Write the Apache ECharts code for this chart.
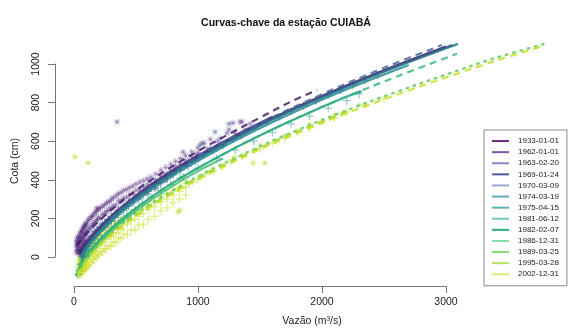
<!DOCTYPE html>
<html><head><meta charset="utf-8">
<script src="https://cdn.jsdelivr.net/npm/echarts@6/dist/echarts.min.js"></script>
<style>html,body{margin:0;padding:0;background:#fff}#c{width:568px;height:333px}</style>
</head><body><div id="c"></div>
<script>
const titleText = 'Curvas-chave da estação CUIABÁ';
const xLabel = 'Vazão (m³/s)';
const yLabel = 'Cota (cm)';
const xTickMin = 0, xTickMax = 3000, xTickStep = 1000;
const yTickMin = 0, yTickMax = 1000, yTickStep = 200;

const legendNames = ['1933-01-01','1962-01-01','1963-02-20','1969-01-24','1970-03-09','1974-03-19','1975-04-15','1981-06-12','1982-02-07','1986-12-31','1989-03-25','1995-03-28','2002-12-31'];
const legendColors = ['#6a2a7e','#7b55a8','#8c88c4','#4b5a9a','#8faacb','#6aa7be','#5bb2b0','#74c9b8','#26b080','#84dca8','#86dc74','#b0e463','#dceb78'];
const lineColors = ['#440154','#481c6e','#46327e','#3d4d8a','#4a6a9c','#2c738e','#23888e','#1f9a8a','#35b779','#42be71','#66cb5d','#98d83e','#c8df20'];

// rating curves [vazão, cota]
const c1933 = [[50,15],[100,62],[250,174],[500,311],[750,423],[1000,519],[1500,688],[2000,834],[2500,967],[3000,1090]];
const c1962 = [[20,60],[100,120],[250,215],[500,345],[750,452],[1000,548],[1250,637],[1500,722],[1750,805],[1960,865]];
const c1963 = [[40,30],[100,70],[250,182],[500,318],[750,430],[1000,526],[1300,630],[1600,726]];
const c1969 = [[50,6],[100,58],[250,170],[500,307],[1000,515],[1500,684],[2000,830],[2500,963],[3050,1098]];
const c1970 = [[50,2],[250,168],[500,307],[1000,519],[1500,692],[2000,843],[2500,980],[2968,1098]];
const c1974 = [[60,10],[100,54],[150,96],[250,166],[400,253],[600,350],[800,435],[1000,511],[1400,648],[1800,770],[2200,881],[2600,985],[3097,1104]];
const c1975 = [[70,5],[100,42],[150,84],[250,154],[400,241],[600,338],[800,423],[1000,499],[1400,636],[1800,758],[2200,869],[2700,995]];
const c1981 = [[20,-100],[30,-75],[50,-49],[100,4],[150,46],[250,116],[400,203],[600,300],[800,385],[1000,461],[1400,598],[1800,720],[2200,831],[2320,858]];
const c1982 = [[20,-100],[50,-49],[100,4],[250,116],[400,203],[600,300],[800,385],[1000,461],[1400,598],[1800,720],[2200,831],[2600,934],[3089,1053]];
const c1986 = [[30,-85],[50,-58],[100,-5],[250,105],[400,190],[600,286],[800,370],[1000,445],[1200,510]];
const c1989 = [[30,-80],[50,-55],[100,-7],[150,32],[250,98],[400,178],[600,267],[800,346],[1000,417],[1400,543],[1800,657],[2200,760],[2600,855],[3000,945],[3400,1031],[3830,1110]];
const c1995 = [[30,-88],[50,-62],[100,-14],[150,25],[250,91],[400,171],[600,260],[800,339],[1000,410],[1400,536],[1800,650],[2200,753]];
const c2002 = [[30,-95],[50,-70],[100,-22],[150,17],[250,83],[400,163],[600,252],[800,331],[1000,402],[1400,528],[1800,642],[2200,745],[2600,840],[3000,930],[3400,1016],[3782,1093]];
const curves = [c1933,c1962,c1963,c1969,c1970,c1974,c1975,c1981,c1982,c1986,c1989,c1995,c2002];
const lineTypes = ['solid','dashed','solid','solid','dashed','solid','solid','solid','dashed','solid','dotted','dashed','dashed'];

// observed measurements [vazão, cota]
const purplePts = [
  [20,30],[20,60],[20,85],[25,20],[25,50],[25,80],[30,40],[30,70],[30,100],[35,25],[35,60],[35,95],[40,35],[40,75],[40,110],[45,20],[45,60],[45,105],
  [50,40],[50,85],[50,125],[55,30],[55,75],[55,120],[60,50],[60,95],[60,135],[65,40],[65,85],[65,130],[70,60],[70,100],[70,145],[75,50],[75,95],[75,150],
  [80,70],[80,115],[80,155],[85,60],[85,110],[85,160],[90,80],[90,125],[90,165],[95,70],[95,120],[95,170],[100,85],[100,135],[100,175],[110,80],[110,130],[110,185],
  [120,100],[120,150],[120,195],[130,95],[130,145],[130,200],[140,110],[140,160],[140,210],[150,105],[150,165],[150,212],[160,125],[160,175],[160,222],
  [170,120],[170,180],[170,230],[180,135],[180,190],[180,235],[185,254],[190,130],[190,195],[190,245],[200,150],[200,205],[200,248],[215,145],[215,200],[215,255],
  [230,165],[230,220],[230,262],[245,160],[245,225],[245,270],[260,180],[260,235],[260,278],[275,175],[275,240],[275,285],[290,200],[290,250],[290,290],
  [305,195],[305,255],[305,300],[320,220],[320,265],[320,308],[340,215],[340,270],[340,318],[347,700],[360,245],[360,290],[360,328],[380,240],[380,295],[380,335],
  [400,265],[400,305],[400,345],[425,260],[425,310],[425,350],[450,290],[450,325],[450,360],[475,285],[475,330],[475,368],[500,310],[500,345],[500,378],
  [530,305],[530,350],[530,388],[560,335],[560,365],[560,395],[590,330],[590,375],[590,405],[620,360],[620,390],[620,415],[660,355],[660,400],[660,430],
  [700,385],[700,420],[700,450],[740,395],[740,430],[740,465],[780,420],[780,450],[780,480],[820,440],[820,470],[820,495],[860,455],[860,480],[860,510],
  [879,544],[900,470],[900,500],[900,525],[950,490],[950,520],[950,545],[992,528],[1000,505],[1000,540],[1000,565],[1040,520],[1050,590],[1080,560],[1100,610],
  [1120,545],[1160,600],[1200,580],[1234,642],[1250,660],[1282,694],[1300,640],[1339,700],[1355,700],[1380,660],[1420,690]];
const bluePts = [[65,5],[1016,580],[1137,648],[1032,590],[1250,690],[1180,615]];
const tealPts = [
  [60,0],[60,20],[70,10],[70,30],[80,25],[80,45],[90,35],[90,55],[100,45],[100,65],[115,55],[115,80],[130,70],[130,90],[145,85],[145,105],[160,95],[160,115],
  [175,110],[175,130],[190,120],[190,140],[210,135],[210,155],[230,150],[230,170],[250,155],[250,178],[275,175],[275,195],[300,185],[300,208],[330,205],[330,225],
  [360,220],[360,242],[400,242],[400,262],[440,262],[440,285],[480,285],[480,305],[520,300],[520,322],[560,320],[560,342],[600,340],[600,360],[650,360],[650,382],
  [700,385],[700,402],[750,405],[750,425],[800,425],[800,445],[860,450],[860,470],[920,470],[920,492],[980,495],[980,515],
  [1080,540],[1150,565],[1200,578],[1280,610],[1350,630],[1450,665],[1550,695],[1650,725],[1750,755],[1850,785],[1950,810],[2050,840],[2150,865],[2250,890],[2350,915],[2450,940]];
const greenPts = [[30,-90],[40,-70],[50,-40],[60,-35],[70,-15],[80,-10],[90,5],[100,0],[115,20],[130,30],[150,40],[170,60],[190,70],[220,95],[250,110],[290,135],
  [330,160],[380,190],[430,215],[490,245],[550,275],[620,310],[700,345],[780,375],[855,409],[880,415],[1000,460],[1100,560],[1150,510],[1300,555],[1450,600],
  [1600,645],[1750,690],[1900,730],[2050,770],[2200,810],[2300,845]];
const yellowPts = [
  [40,-95],[40,-60],[40,-30],[45,-85],[45,-50],[45,-15],[50,-90],[50,-55],[50,-20],[55,-75],[55,-40],[55,-5],[60,-85],[60,-45],[60,-5],[65,-70],[65,-30],[65,5],
  [70,-75],[70,-35],[70,10],[75,-60],[75,-20],[75,20],[80,-70],[80,-25],[80,15],[85,-55],[85,-10],[85,30],[90,-60],[90,-15],[90,25],[95,-45],[95,0],[95,40],
  [100,-55],[100,-5],[100,45],[110,-40],[110,10],[110,50],[120,-45],[120,5],[120,55],[130,-25],[130,25],[130,65],[140,-30],[140,20],[140,70],[150,-10],[150,35],[150,75],
  [160,-15],[160,30],[160,80],[170,5],[170,50],[170,90],[180,0],[180,45],[180,95],[190,15],[190,65],[190,105],[200,10],[200,60],[200,110],[215,30],[215,75],[215,115],
  [230,25],[230,80],[230,125],[245,45],[245,95],[245,135],[260,40],[260,90],[260,140],[280,60],[280,110],[280,150],[300,55],[300,105],[300,155],[320,80],[320,125],[320,165],
  [340,75],[340,125],[340,175],[360,100],[360,145],[360,185],[380,95],[380,145],[380,190],[400,120],[400,165],[400,200],[430,115],[430,170],[430,210],
  [460,140],[460,190],[460,225],[490,140],[490,195],[490,235],[520,165],[520,210],[520,245],[560,170],[560,225],[560,260],[600,195],[600,245],[600,275],
  [650,210],[650,260],[650,290],[700,240],[700,285],[700,310],[750,255],[750,300],[750,325],[800,280],[800,320],[800,345],[850,300],[850,340],[850,360],
  [900,320],[900,360],[900,380],[960,390],[1000,400],[1060,430],[1120,445],[1200,470],[1280,505],[1360,520],[1500,560],[1600,590],[1700,615],[1800,645],
  [1900,670],[2000,700],[2100,720],[2200,750],[2350,785],[2500,820]];
const yellowStars = [[8,518],[113,487],[839,233],[855,243],[1444,487],[1540,487]];
const limePts = [[300,150],[500,250],[700,320],[900,395],[1100,450],[1300,520],[1500,580],[1700,630],[1900,690],[2100,740],[2300,790]];

const STAR = 'path://M5,0L5.5,3.8L8.54,1.46L6.2,4.5L10,5L6.2,5.5L8.54,8.54L5.5,6.2L5,10L4.5,6.2L1.46,8.54L3.8,5.5L0,5L3.8,4.5L1.46,1.46L4.5,3.8Z';
const PLUS = 'path://M4.2,0H5.8V4.2H10V5.8H5.8V10H4.2V5.8H0V4.2H4.2Z';
const FONT = 'Liberation Sans';

function scat(name, data, sym, size, color) {
  return {name, type:'scatter', xAxisIndex:0, yAxisIndex:0, data, symbol:sym, symbolSize:size,
    itemStyle:{color}, z:2, silent:true, large:false};
}
const series = [
  scat('p4', yellowPts, PLUS, 8, 'rgba(200,223,32,0.7)'),
  scat('p3', greenPts, PLUS, 8, 'rgba(31,154,138,0.6)'),
  scat('p2', tealPts, PLUS, 8, 'rgba(35,120,142,0.6)'),
  scat('p1', purplePts, STAR, 9, 'rgba(72,35,120,0.62)'),
  scat('p5', limePts, STAR, 8, 'rgba(152,216,62,0.65)'),
  scat('p6', yellowStars, STAR, 9, 'rgba(180,220,40,0.85)'),
  scat('p7', bluePts, STAR, 9, 'rgba(60,90,140,0.7)')
];
legendNames.forEach((n, i) => {
  const t = lineTypes[i];
  series.push({
    name:n, type:'line', xAxisIndex:0, yAxisIndex:0, data:curves[i], smooth:0.4, showSymbol:false,
    color: lineColors[i], z:3, silent:true,
    lineStyle:{color:lineColors[i], width: t==='dotted'?2.5:2.2, opacity:0.85,
      type: t==='dashed'?[7,5]:(t==='dotted'?[1.5,6]:'solid'), cap: t==='dotted'?'round':'butt'}
  });
});

const plain = v => String(v);
const chart = echarts.init(document.getElementById('c'), null, {renderer:'canvas'});
chart.setOption({
  animation:false,
  textStyle:{fontFamily:FONT},
  grid:[
    {left:55.4, right:16.6, top:35, bottom:47.05},
    {left:74, width:372, top:285, height:1},
    {left:55, width:1, top:64, height:193}
  ],
  xAxis:[
    {gridIndex:0, type:'value', min:-150, max:3850, show:false},
    {gridIndex:1, type:'value', min:xTickMin, max:xTickMax, interval:xTickStep, position:'bottom',
      axisLine:{show:true, lineStyle:{color:'#777', width:1}},
      axisTick:{show:true, length:7, lineStyle:{color:'#777'}},
      splitLine:{show:false},
      axisLabel:{margin:11, fontSize:10.5, color:'#222', fontFamily:FONT, formatter:plain}},
    {gridIndex:2, type:'value', min:0, max:1, show:false}
  ],
  yAxis:[
    {gridIndex:0, type:'value', min:-150, max:1150, show:false},
    {gridIndex:1, type:'value', min:0, max:1, show:false},
    {gridIndex:2, type:'value', min:yTickMin, max:yTickMax, interval:yTickStep, position:'left',
      axisLine:{show:true, lineStyle:{color:'#777', width:1}},
      axisTick:{show:true, length:7, lineStyle:{color:'#777'}},
      splitLine:{show:false},
      axisLabel:{margin:13, rotate:90, fontSize:10.5, color:'#222', fontFamily:FONT, formatter:plain}}
  ],
  legend:{
    left:484, top:130, orient:'vertical', icon:'rect', itemWidth:17, itemHeight:2, itemGap:0,
    padding:[5.5,8,6,8], borderColor:'#888', borderWidth:1, backgroundColor:'#fff',
    data: legendNames.map((n,i)=>({name:n, itemStyle:{color:legendColors[i]}})),
    textStyle:{fontSize:8, lineHeight:11.1, color:'#222', fontFamily:FONT, padding:[0,0,0,4]},
    selectedMode:false
  },
  graphic:[
    {type:'text', x:286, y:23, style:{text:titleText, align:'center', verticalAlign:'middle', font:'bold 10.5px "Liberation Sans"', fill:'#111'}},
    {type:'text', x:312, y:321, style:{text:xLabel, align:'center', verticalAlign:'middle', font:'10.5px "Liberation Sans"', fill:'#222'}},
    {type:'text', x:15, y:161, rotation:Math.PI/2, style:{text:yLabel, align:'center', verticalAlign:'middle', font:'10.5px "Liberation Sans"', fill:'#222'}}
  ],
  series
});
</script></body></html>
